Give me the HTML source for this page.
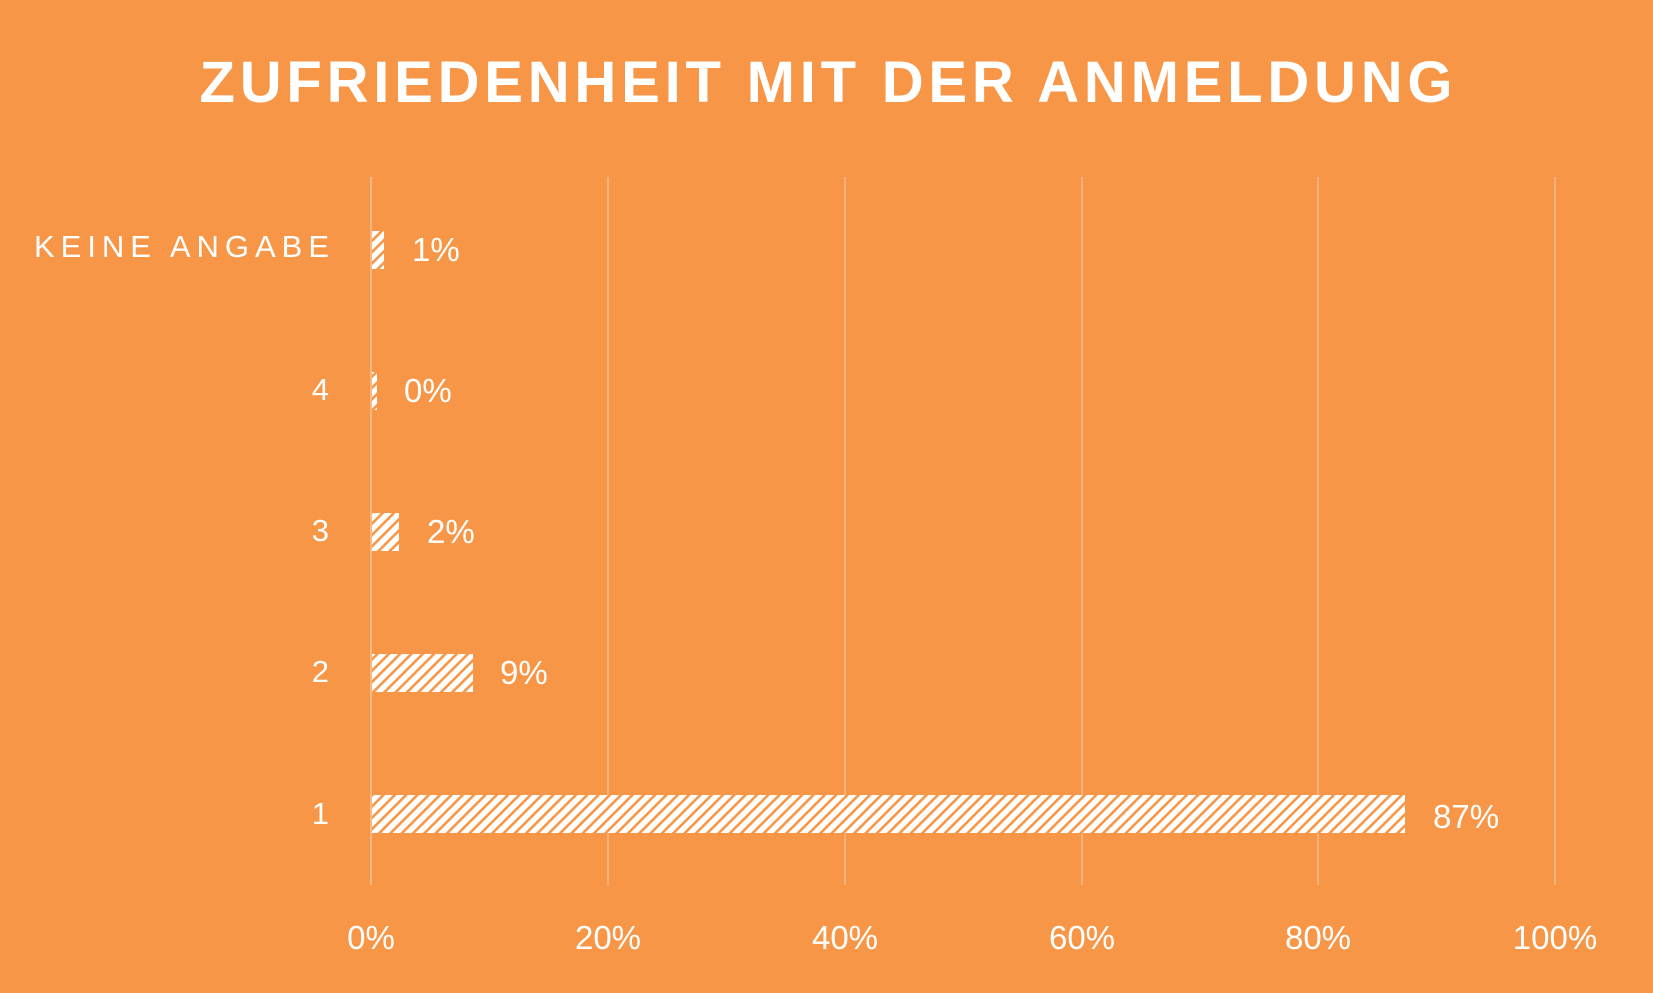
<!DOCTYPE html>
<html><head><meta charset="utf-8"><style>
html,body{margin:0;padding:0;background:#F79646;}
svg{display:block}
text{font-family:"Liberation Sans",sans-serif;fill:#fff}
</style></head><body>
<svg width="1653" height="993" viewBox="0 0 1653 993" xmlns="http://www.w3.org/2000/svg">
<defs>
<pattern id="h" patternUnits="userSpaceOnUse" width="8" height="8" patternTransform="rotate(45)">
<rect width="8" height="8" fill="#fff"/>
<rect width="2.6" height="8" fill="#F79646"/>
</pattern>
</defs>
<rect width="1653" height="993" fill="#F79646"/>
<text x="826" y="102" text-anchor="middle" font-size="58" font-weight="bold" textLength="1253" lengthAdjust="spacing">ZUFRIEDENHEIT MIT DER ANMELDUNG</text>
<g stroke="#F9B07A" stroke-width="2">
<line x1="608" y1="177" x2="608" y2="885"/>
<line x1="845" y1="177" x2="845" y2="885"/>
<line x1="1082" y1="177" x2="1082" y2="885"/>
<line x1="1318" y1="177" x2="1318" y2="885"/>
<line x1="1555" y1="177" x2="1555" y2="885"/>
</g>
<line x1="371" y1="177" x2="371" y2="885" stroke="#FBC49A" stroke-width="1.5"/>
<g fill="url(#h)">
<rect x="372" y="231" width="12" height="38"/>
<rect x="372" y="372" width="5" height="38"/>
<rect x="372" y="513" width="27" height="38"/>
<rect x="372" y="654" width="101" height="38"/>
<rect x="372" y="795" width="1033" height="38"/>
</g>
<g font-size="33">
<text x="412" y="261">1%</text>
<text x="404" y="402">0%</text>
<text x="427" y="543">2%</text>
<text x="500" y="684">9%</text>
<text x="1433" y="828">87%</text>
</g>
<g font-size="31" text-anchor="end">
<text x="329" y="257" textLength="295" lengthAdjust="spacing">KEINE ANGABE</text>
<text x="329" y="400">4</text>
<text x="329" y="541">3</text>
<text x="329" y="682">2</text>
<text x="329" y="824">1</text>
</g>
<g font-size="33" text-anchor="middle">
<text x="371" y="949">0%</text>
<text x="608" y="949">20%</text>
<text x="845" y="949">40%</text>
<text x="1082" y="949">60%</text>
<text x="1318" y="949">80%</text>
<text x="1555" y="949">100%</text>
</g>
</svg>
</body></html>
